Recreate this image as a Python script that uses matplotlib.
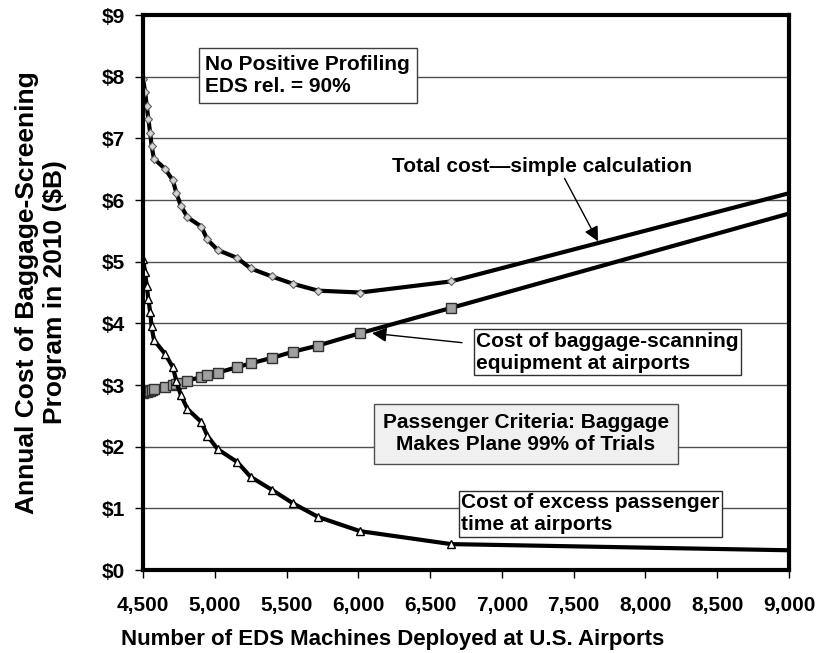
import matplotlib
matplotlib.use("Agg")
import matplotlib.pyplot as plt
from matplotlib.ticker import FuncFormatter

plt.rcParams['font.family'] = ['Liberation Sans', 'DejaVu Sans']
plt.rcParams['font.weight'] = 'bold'

# number of EDS machines (shared by all three series)
machines = [4500, 4515, 4526, 4537, 4550, 4560, 4576, 4652, 4708, 4733, 4763, 4810,
            4906, 4948, 5020, 5157, 5250, 5398, 5546, 5720, 6012, 6646, 9000]
# annual cost, $B
total_cost = [7.97, 7.75, 7.53, 7.32, 7.09, 6.88, 6.67, 6.51, 6.32, 6.11, 5.91, 5.72,
              5.57, 5.36, 5.19, 5.06, 4.89, 4.76, 4.64, 4.53, 4.50, 4.68, 6.11]
equipment_cost = [2.87, 2.88, 2.89, 2.90, 2.91, 2.92, 2.94, 2.97, 3.00, 3.02, 3.04, 3.07,
                  3.13, 3.16, 3.20, 3.29, 3.35, 3.44, 3.54, 3.64, 3.84, 4.25, 5.78]
passenger_cost = [5.04, 4.83, 4.61, 4.40, 4.18, 3.95, 3.73, 3.51, 3.29, 3.06, 2.84, 2.61,
                  2.40, 2.18, 1.96, 1.75, 1.51, 1.30, 1.08, 0.86, 0.63, 0.42, 0.32]

x_ticks = list(range(4500, 9001, 500))
y_ticks = list(range(0, 10))

fig = plt.figure(figsize=(8.18, 6.53), dpi=100)
ax = fig.add_axes([0.1748, 0.1271, 0.7897, 0.8499])

marks = list(range(len(machines) - 1))
ax.plot(machines, total_cost, color='black', lw=3, marker='D', ms=4.5,
        mfc='#d4d4d4', mec='#606060', mew=0.8, markevery=marks, zorder=3)
ax.plot(machines, equipment_cost, color='black', lw=3, marker='s', ms=6.5,
        mfc='#a0a0a0', mec='#303030', mew=1, markevery=marks, zorder=3)
ax.plot(machines, passenger_cost, color='black', lw=3, marker='^', ms=6,
        mfc='white', mec='black', mew=1, markevery=marks, zorder=3)

ax.set_xlim(4500, 9000)
ax.set_ylim(0, 9)
ax.set_xticks(x_ticks)
ax.set_yticks(y_ticks)
ax.xaxis.set_major_formatter(FuncFormatter(lambda v, p: f"{int(v):,}"))
ax.yaxis.set_major_formatter(FuncFormatter(lambda v, p: f"${int(v)}"))
ax.tick_params(axis='both', direction='out', length=6, width=1, labelsize=15)
ax.tick_params(axis='x', pad=13)
ax.tick_params(axis='y', pad=7)

ax.yaxis.grid(True, color='#505050', lw=1)
ax.set_axisbelow(True)
for s in ax.spines.values():
    s.set_linewidth(3)
    s.set_color('black')
    s.set_zorder(4)

ax.set_xlabel("Number of EDS Machines Deployed at U.S. Airports", fontsize=16,
              fontweight='bold')
ax.xaxis.set_label_coords(0.387, -0.126)
ax.xaxis.label.set_va('center')
ax.set_ylabel("Annual Cost of Baggage-Screening\nProgram in 2010 ($B)", fontsize=19,
              fontweight='bold')
ax.yaxis.set_label_coords(-0.158, 0.5)
ax.yaxis.label.set_va('center')

fs = 15
ax.text(4935, 8.02, "No Positive Profiling\nEDS rel. = 90%", fontsize=fs, fontweight='bold',
        ha='left', va='center', zorder=5,
        bbox=dict(boxstyle='square,pad=0.32', fc='white', ec='#404040', lw=1))

ax.annotate("Total cost\u2014simple calculation", xy=(7670, 5.33), xytext=(6235, 6.55),
            fontsize=fs, fontweight='bold', ha='left', va='center', zorder=5,
            arrowprops=dict(arrowstyle='-|>', color='black', lw=1, mutation_scale=22,
                            shrinkA=0, shrinkB=0, relpos=(0.57, 0.0)))

ax.annotate("Cost of baggage-scanning\nequipment at airports", xy=(6095, 3.84),
            xytext=(6820, 3.53), fontsize=fs, fontweight='bold', ha='left', va='center',
            zorder=5,
            bbox=dict(boxstyle='square,pad=0.12', fc='white', ec='#303030', lw=1),
            arrowprops=dict(arrowstyle='-|>', color='black', lw=1, mutation_scale=22,
                            shrinkA=8, shrinkB=0, relpos=(0.0, 0.7)))

ax.text(7168, 2.21, "Passenger Criteria: Baggage\nMakes Plane 99% of Trials", fontsize=fs,
        fontweight='bold', ha='center', va='center', zorder=5,
        bbox=dict(boxstyle='square,pad=0.45', fc='#f0f0f0', ec='#505050', lw=1))

ax.text(6718, 0.91, "Cost of excess passenger\ntime at airports", fontsize=fs,
        fontweight='bold', ha='left', va='center', zorder=5,
        bbox=dict(boxstyle='square,pad=0.12', fc='white', ec='#303030', lw=1))

fig.savefig("out.png", dpi=100)
